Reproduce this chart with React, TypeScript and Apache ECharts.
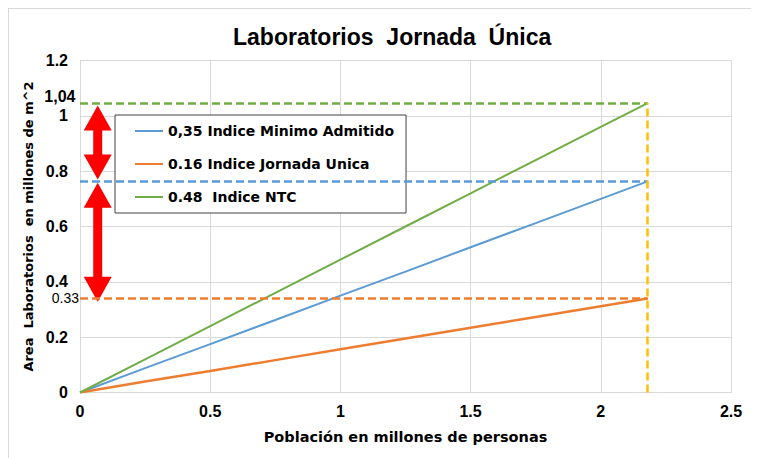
import React, { useEffect, useRef } from "react";
import * as echarts from "echarts";

const titleText = "Laboratorios  Jornada  Única";
const xAxisName = "Población en millones de personas";
const yAxisName = "Area  Laboratorios  en millones de m^2";

const population = [0, 0.25, 0.5, 0.75, 1, 1.25, 1.5, 1.75, 2, 2.18];
const minimoValues = [0, 0.088, 0.175, 0.262, 0.35, 0.437, 0.525, 0.612, 0.70, 0.763];
const jornadaValues = [0, 0.04, 0.078, 0.117, 0.156, 0.195, 0.234, 0.273, 0.312, 0.34];
const ntcValues = [0, 0.12, 0.24, 0.36, 0.48, 0.60, 0.72, 0.84, 0.96, 1.046];

const seriesNames = ["0,35 Indice Minimo Admitido", "0.16 Indice Jornada Unica", "0.48  Indice NTC"];
const seriesColors = ["#5B9BD5", "#ED7D31", "#70AD47"];

const endX = 2.18;
const levelNtc = 1.046;
const levelMinimo = 0.763;
const levelJornada = 0.34;
const labelNtc = "1,04";
const labelJornada = "0.33";

// double arrows: [x, yTop, yBottom]
const arrows = [
  [0.068, 1.037, 0.77],
  [0.068, 0.758, 0.328],
];

const FONT = "'Liberation Sans', Arial, sans-serif";
const WIDE = "'DejaVu Sans', Verdana, sans-serif";

function pairs(xs: number[], ys: number[]) {
  return xs.map((x, i) => [x, ys[i]]);
}

function hLine(y: number, color: string, extra: any[] = []) {
  return {
    silent: true,
    symbol: ["none", "none"],
    lineStyle: { color, width: 2.5, type: [8, 4] },
    label: { show: false },
    data: [[{ coord: [0, y] }, { coord: [endX, y] }], ...extra],
  };
}

function valueLabel(y: number, text: string, dy: number, bold: boolean, size: number, dist: number) {
  return {
    silent: true,
    symbol: "rect",
    symbolSize: 1,
    itemStyle: { color: "rgba(0,0,0,0)" },
    label: {
      show: true,
      position: "left",
      distance: dist,
      offset: [0, dy],
      formatter: text,
      color: "#000",
      fontFamily: FONT,
      fontWeight: bold ? "bold" : "normal",
      fontSize: size,
    },
    data: [{ coord: [0, y] }],
  };
}

export default function App() {
  const ref = useRef<HTMLDivElement>(null);
  useEffect(() => {
    if (!ref.current) return;
    const chart = echarts.init(ref.current, null, { renderer: "svg" });
    const yellow = [
      { coord: [endX, 0], lineStyle: { color: "#FFC000", width: 2.5, type: [8, 4] } },
      { coord: [endX, levelNtc] },
    ];
    chart.setOption({
      animation: false,
      backgroundColor: "#fff",
      textStyle: { fontFamily: FONT },
      title: {
        text: titleText,
        left: 219,
        top: 11,
        textStyle: { fontFamily: FONT, fontWeight: "bold", fontSize: 23, color: "#000" },
      },
      grid: { left: 71, right: 28, top: 51.5, bottom: 65.5, containLabel: false },
      legend: {
        data: seriesNames,
        orient: "vertical",
        left: 106,
        top: 106,
        padding: [9, 12, 9, 20],
        itemGap: 19,
        itemWidth: 28,
        itemHeight: 14,
        icon: "path://M0,6 L28,6 L28,8 L0,8 Z",
        backgroundColor: "#fff",
        borderColor: "#404040",
        borderWidth: 1,
        textStyle: { fontFamily: WIDE, fontWeight: "bold", fontSize: 14, color: "#000" },
      },
      xAxis: {
        type: "value",
        min: 0,
        max: 2.5,
        interval: 0.5,
        name: xAxisName,
        nameLocation: "middle",
        nameGap: 37,
        nameTextStyle: { fontFamily: WIDE, fontWeight: "bold", fontSize: 14.5, color: "#000" },
        axisLine: { lineStyle: { color: "#d9d9d9", width: 1 } },
        axisTick: { show: false },
        axisLabel: { fontFamily: FONT, fontWeight: "bold", fontSize: 16, color: "#000", margin: 11 },
        splitLine: { lineStyle: { color: "#d9d9d9" } },
      },
      yAxis: {
        type: "value",
        min: 0,
        max: 1.2,
        interval: 0.2,
        name: yAxisName,
        nameLocation: "middle",
        nameGap: 45,
        nameRotate: 90,
        nameTextStyle: { fontFamily: WIDE, fontWeight: "bold", fontSize: 13, color: "#000" },
        axisLine: { show: true, lineStyle: { color: "#d9d9d9", width: 1 } },
        axisTick: { show: false },
        axisLabel: { fontFamily: FONT, fontWeight: "bold", fontSize: 16, color: "#000", margin: 12 },
        splitLine: { lineStyle: { color: "#d9d9d9" } },
      },
      series: [
        {
          name: seriesNames[0],
          type: "line",
          data: pairs(population, minimoValues),
          symbol: "none",
          lineStyle: { color: seriesColors[0], width: 2 },
          itemStyle: { color: seriesColors[0] },
          markLine: hLine(levelMinimo, seriesColors[0]),
          z: 3,
        },
        {
          name: seriesNames[1],
          type: "line",
          data: pairs(population, jornadaValues),
          symbol: "none",
          lineStyle: { color: seriesColors[1], width: 2.5 },
          itemStyle: { color: seriesColors[1] },
          markLine: hLine(levelJornada, seriesColors[1]),
          markPoint: valueLabel(levelJornada, labelJornada, 0, false, 14, 0.5),
          z: 3,
        },
        {
          name: seriesNames[2],
          type: "line",
          data: pairs(population, ntcValues),
          symbol: "none",
          lineStyle: { color: seriesColors[2], width: 2 },
          itemStyle: { color: seriesColors[2] },
          markLine: hLine(levelNtc, seriesColors[2], [yellow]),
          markPoint: valueLabel(levelNtc, labelNtc, -7, true, 16, 4),
          z: 3,
        },
        {
          name: "arrows",
          type: "custom",
          data: arrows,
          z: 4,
          renderItem: (params: any, api: any) => {
            const top = api.coord([api.value(0), api.value(1)]);
            const bot = api.coord([api.value(0), api.value(2)]);
            const cx = top[0];
            const hw = 14;
            const hl = 25;
            const sw = 4.5;
            const t = top[1];
            const b = bot[1];
            return {
              type: "polygon",
              shape: {
                points: [
                  [cx, t],
                  [cx + hw, t + hl],
                  [cx + sw, t + hl],
                  [cx + sw, b - hl],
                  [cx + hw, b - hl],
                  [cx, b],
                  [cx - hw, b - hl],
                  [cx - sw, b - hl],
                  [cx - sw, t + hl],
                  [cx - hw, t + hl],
                ],
              },
              style: { fill: "#FF0000" },
            };
          },
        },
      ],
    });
    return () => chart.dispose();
  }, []);
  return (
    <div
      style={{
        width: 751,
        height: 450,
        borderLeft: "1px solid #d9d9d9",
        borderTop: "1px solid #d9d9d9",
        boxSizing: "border-box",
      }}
    >
      <div ref={ref} style={{ width: 750, height: 449 }} />
    </div>
  );
}
